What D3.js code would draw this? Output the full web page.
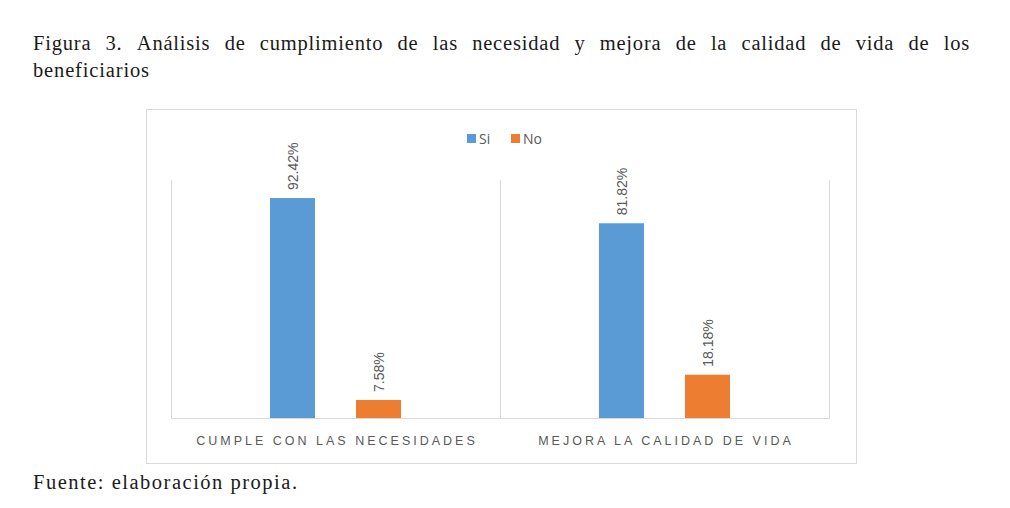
<!DOCTYPE html>
<html><head><meta charset="utf-8">
<script src="https://cdn.jsdelivr.net/npm/d3@7"></script>
<style>body{margin:0;background:#fff}</style>
</head><body>
<svg id="c" width="1010" height="508"></svg>
<script>
const categories = ["CUMPLE CON LAS NECESIDADES", "MEJORA LA CALIDAD DE VIDA"];
const seriesNames = ["Si", "No"];
const siValues = [92.42, 81.82];
const noValues = [7.58, 18.18];
const colors = ["#5B9BD5", "#ED7D31"];
const titleLine1 = "Figura 3. Análisis de cumplimiento de las necesidad y mejora de la calidad de vida de los";
const titleLine2 = "beneficiarios";
const source = "Fuente: elaboración propia.";

(function () {
const svg = d3.select("#c");
const serif = "'Liberation Serif', 'DejaVu Serif', serif";
const fs = 20.5;

// Title (justified first line)
const words = titleLine1.split(" ");
const tg = svg.append("g");
const ws = words.map(w => tg.append("text").attr("y", 50).attr("font-family", serif)
  .attr("font-size", fs).attr("letter-spacing", "0.8px").attr("fill", "#1a1a1a").text(w));
const widths = ws.map(t => t.node().getComputedTextLength());
const x0 = 33, x1 = 970;
const gap = (x1 - x0 - d3.sum(widths)) / (words.length - 1);
let cx = x0;
ws.forEach((t, i) => { t.attr("x", cx); cx += widths[i] + gap; });
svg.append("text").attr("x", 33).attr("y", 77).attr("font-family", serif)
  .attr("font-size", fs).attr("fill", "#1a1a1a").attr("textLength", 116).attr("lengthAdjust", "spacing").text(titleLine2);
svg.append("text").attr("x", 33).attr("y", 489).attr("font-family", serif)
  .attr("font-size", fs).attr("fill", "#1a1a1a").attr("textLength", 264).attr("lengthAdjust", "spacing").text(source);

// chart frame
svg.append("rect").attr("x", 146.5).attr("y", 109.5).attr("width", 710).attr("height", 354)
  .attr("fill", "#fff").attr("stroke", "#D9D9D9");

const pl = 171, pr = 829, pt = 180, pb = 418;
const x = d3.scaleBand().domain(categories).range([pl, pr]);
const xs = d3.scaleBand().domain(seriesNames).range([99, 230]).paddingInner(41 / 86).paddingOuter(0);
const y = d3.scaleLinear().domain([0, 100]).range([pb, pt]);

// separators
const seps = [pl, ...categories.map(c => x(c) + x.bandwidth())];
svg.append("g").selectAll("line").data(seps).join("line")
  .attr("x1", d => d + 0.5).attr("x2", d => d + 0.5).attr("y1", pt).attr("y2", pb)
  .attr("stroke", "#D9D9D9");
svg.append("line").attr("x1", pl).attr("x2", pr + 1).attr("y1", pb + 0.5).attr("y2", pb + 0.5)
  .attr("stroke", "#D9D9D9");

const data = categories.map((c, i) => ({c, vals: [siValues[i], noValues[i]]}));
const groups = svg.append("g").selectAll("g").data(data).join("g")
  .attr("transform", d => `translate(${x(d.c)},0)`);
groups.selectAll("rect").data(d => d.vals.map((v, j) => ({s: seriesNames[j], v, j}))).join("rect")
  .attr("x", d => xs(d.s)).attr("width", xs.bandwidth())
  .attr("y", d => y(d.v)).attr("height", d => pb - y(d.v))
  .attr("fill", d => colors[d.j]);
groups.selectAll("text").data(d => d.vals.map((v, j) => ({s: seriesNames[j], v, j}))).join("text")
  .attr("transform", d => `translate(${xs(d.s) + xs.bandwidth() / 2 + 5},${y(d.v) - 8}) rotate(-90)`)
  .attr("font-family", "'Liberation Sans', Arial, sans-serif").attr("font-size", 14)
  .attr("fill", "#595959").text(d => d.v.toFixed(2) + "%");

// x labels
svg.append("g").selectAll("text").data(categories).join("text")
  .attr("x", d => x(d) + x.bandwidth() / 2 + 1.5).attr("y", 445).attr("text-anchor", "middle")
  .attr("font-family", "'Liberation Sans', Arial, sans-serif").attr("font-size", 12.5)
  .attr("letter-spacing", "3px").attr("fill", "#595959").text(d => d);

// legend
const lg = svg.append("g").attr("font-family", "'Open Sans', 'Liberation Sans', sans-serif").attr("font-size", 14).attr("fill", "#595959");
const lx = [467, 511];
seriesNames.forEach((s, i) => {
  lg.append("rect").attr("x", lx[i]).attr("y", 134).attr("width", 9).attr("height", 9).attr("fill", colors[i]);
  lg.append("text").attr("x", lx[i] + 12).attr("y", 144).text(s);
});
})();
</script>
</body></html>
